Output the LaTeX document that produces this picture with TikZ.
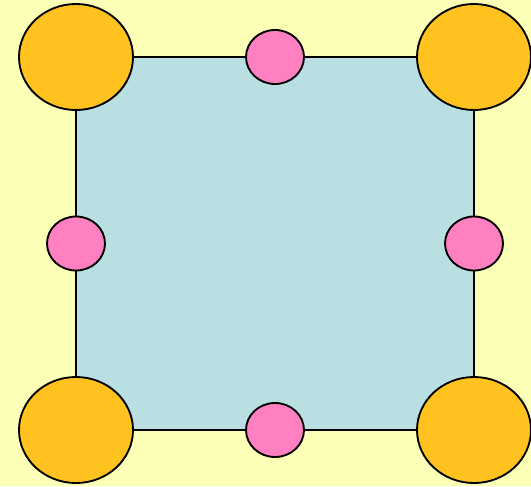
\documentclass[tikz,border=0pt]{standalone}
\usetikzlibrary{positioning, calc, shapes.geometric}
\definecolor{bgyellow}{HTML}{FCFFB6}
\definecolor{panelblue}{HTML}{B9DFE3}
\definecolor{cornerorange}{HTML}{FFC21E}
\definecolor{edgepink}{HTML}{FF80C0}
\tikzset{
    frame/.style={line width=1.4pt},
    corner/.style={frame, draw, ellipse, fill=cornerorange, minimum width=85.5pt, minimum height=79.5pt, inner sep=0pt},
    midpt/.style={frame, draw, ellipse, fill=edgepink, minimum width=43.5pt, minimum height=40.5pt, inner sep=0pt},
}
\begin{document}
\begin{tikzpicture}[x=0.75pt, y=-0.75pt]
    \fill[bgyellow] (0,0) rectangle (531,486);
    \useasboundingbox (0,0) rectangle (531,486);

    \coordinate (ctl) at (76,57);
    \coordinate (ctr) at (474,57);
    \coordinate (cbl) at (76,430);
    \coordinate (cbr) at (474,430);

    % the panel
    \draw[frame, fill=panelblue] (ctl) -- (ctr) -- (cbr) -- (cbl) -- cycle;

    \node[corner] (tl) at (ctl) {};
    \node[corner] (tr) at (ctr) {};
    \node[corner] (bl) at (cbl) {};
    \node[corner] (br) at (cbr) {};

    \node[midpt] (top)    at ($(ctl)!0.5!(ctr)$) {};
    \node[midpt] (bottom) at ($(cbl)!0.5!(cbr)$) {};
    \node[midpt] (left)   at ($(ctl)!0.5!(cbl)$) {};
    \node[midpt] (right)  at ($(ctr)!0.5!(cbr)$) {};
\end{tikzpicture}
\end{document}
